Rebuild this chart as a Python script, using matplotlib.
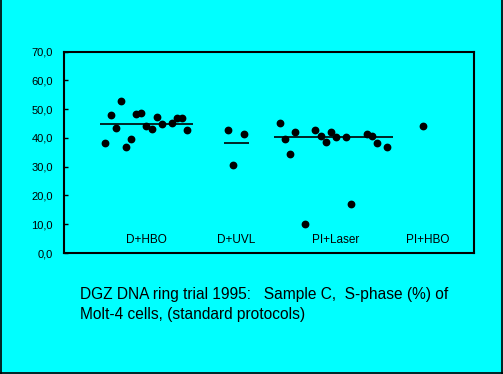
import matplotlib
matplotlib.use("Agg")
import matplotlib.pyplot as plt
from matplotlib.lines import Line2D

# slot positions along the x axis (one slot per lab)
d_hbo_x = [0, 1, 2, 3, 4, 5, 6, 7, 8, 9, 10, 11, 13, 14, 15, 16]
d_hbo_y = [38.4, 48.1, 43.6, 52.7, 36.9, 39.8, 48.4, 48.8, 44.0, 43.2, 47.4, 45.0, 45.3, 46.8, 46.8, 42.9]
d_uvl_x = [24, 25, 27]
d_uvl_y = [42.9, 30.7, 41.4]
pi_laser_x = [34, 35, 36, 37, 39, 41, 42, 43, 44, 45, 47, 48, 51, 52, 53, 55]
pi_laser_y = [45.3, 39.8, 34.5, 41.9, 10.1, 42.7, 40.8, 38.6, 41.9, 40.2, 40.2, 17.2, 41.4, 40.5, 38.1, 37.0]
pi_hbo_x = [62]
pi_hbo_y = [44.0]

# mean lines: (start, end, value)
means = [(-1.1, 17.1, 44.8), (23.1, 28.1, 38.2), (32.9, 56.1, 40.3)]

group_labels = ["D+HBO", "D+UVL", "PI+Laser", "PI+HBO"]
label_x = [8.0, 25.5, 44.9, 62.9]

yticks = [0, 10, 20, 30, 40, 50, 60, 70]
ytick_labels = ["0,0", "10,0", "20,0", "30,0", "40,0", "50,0", "60,0", "70,0"]

title = "DGZ DNA ring trial 1995:   Sample C,  S-phase (%) of\nMolt-4 cells, (standard protocols)"

bg = "#00FFFF"
plt.rcParams["font.family"] = ["Liberation Sans", "DejaVu Sans"]

fig = plt.figure(figsize=(5.03, 3.74), dpi=100, facecolor=bg)
ax = fig.add_axes([0.127, 0.3235, 0.815, 0.5385], facecolor=bg)

for xs, ys in [(d_hbo_x, d_hbo_y), (d_uvl_x, d_uvl_y), (pi_laser_x, pi_laser_y), (pi_hbo_x, pi_hbo_y)]:
    ax.plot(xs, ys, linestyle="none", marker="o", ms=4.6, color="black")

for x0, x1, m in means:
    ax.hlines(m, x0, x1, color="black", lw=1.2)

for lab, lx in zip(group_labels, label_x):
    ax.text(lx, 4.5, lab, ha="center", va="center", fontsize=8.5)

ax.set_xlim(-8.1, 71.9)
ax.set_ylim(0, 70)
ax.set_xticks([])
ax.set_yticks(yticks)
ax.set_yticklabels(ytick_labels, fontsize=8)
ax.tick_params(axis="y", direction="in", length=3, width=1, pad=8)
for s in ax.spines.values():
    s.set_linewidth(1.5)

t = fig.text(0.16, 0.186, title, ha="left", va="center", fontsize=12, linespacing=1.4)
# shrink the caption so its first line is about 370 px wide, like the reference
fig.canvas.draw()
w = t.get_window_extent().width
t.set_fontsize(12 * 370 / w)

# thin frame round the picture (left, bottom, right)
fig.add_artist(Line2D([0.001, 0.001], [0, 1], color="black", lw=1.2, transform=fig.transFigure))
fig.add_artist(Line2D([0, 1], [0.002, 0.002], color="black", lw=1.2, transform=fig.transFigure))
fig.add_artist(Line2D([0.998, 0.998], [0, 1], color="black", lw=1.2, transform=fig.transFigure))

fig.savefig("out.png", dpi=100, facecolor=bg)
